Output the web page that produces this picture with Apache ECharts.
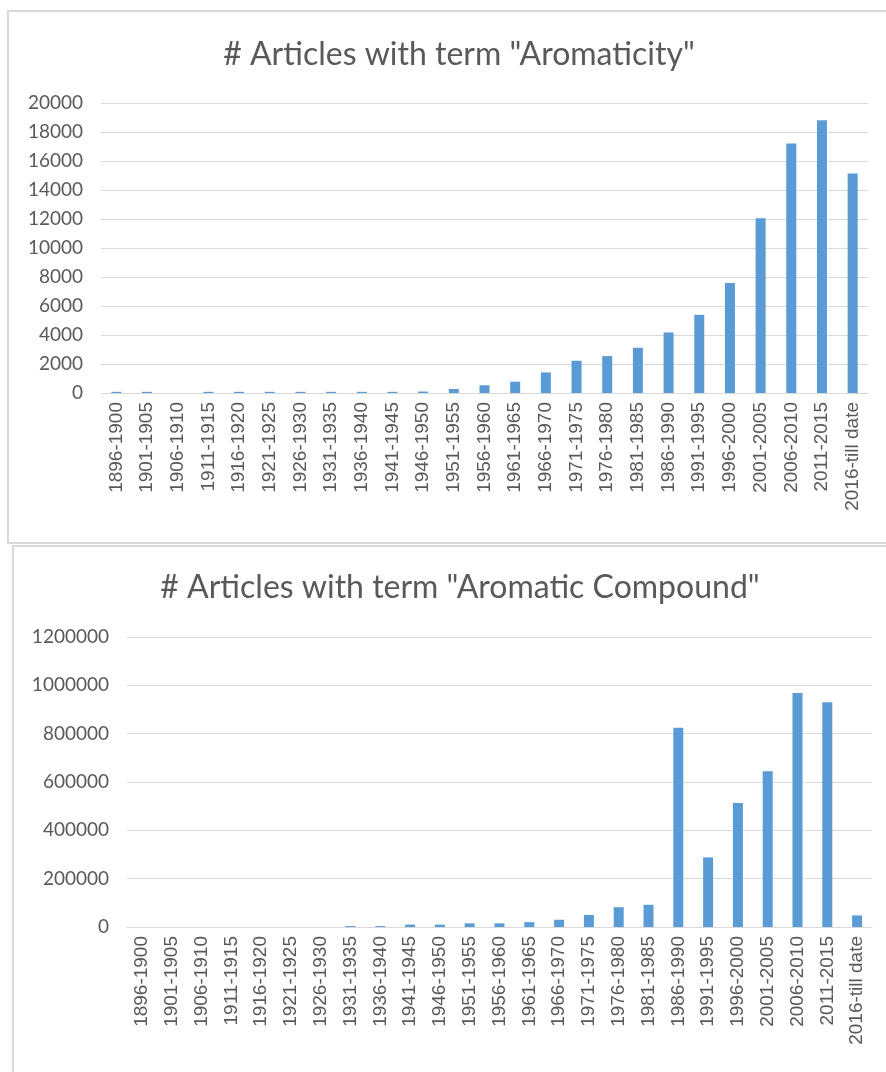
<!DOCTYPE html>
<html>
<head>
<meta charset="utf-8">
<script src="https://cdn.jsdelivr.net/npm/echarts@6/dist/echarts.min.js"></script>
<style>
html,body{margin:0;padding:0;background:#fff;}
#chart{width:886px;height:1072px;}
</style>
</head>
<body>
<div id="chart"></div>
<script>
var categories = ['1896-1900','1901-1905','1906-1910','1911-1915','1916-1920','1921-1925','1926-1930','1931-1935','1936-1940','1941-1945','1946-1950','1951-1955','1956-1960','1961-1965','1966-1970','1971-1975','1976-1980','1981-1985','1986-1990','1991-1995','1996-2000','2001-2005','2006-2010','2011-2015','2016-till date'];
var aromaticity = [80,80,0,80,80,80,80,80,80,80,100,275,530,780,1420,2225,2545,3120,4175,5390,7590,12060,17200,18810,15130];
var aromaticCompound = [0,0,0,0,0,0,0,4000,4000,10000,10000,15000,15000,20000,30000,50000,82000,92000,825000,288000,513000,644000,968000,930000,48000];
var titles = ['# Articles with term "Aromaticity"', '# Articles with term "Aromatic Compound"'];

var txt = '#595959', gridC = '#d9d9d9', barC = '#5b9bd5';
var yFont = 'Lato', xFont = 'Liberation Sans';

function xAxis(gi){
  return {type:'category', gridIndex:gi, data:categories,
    axisTick:{show:false}, axisLine:{lineStyle:{color:gridC,width:1}},
    axisLabel:{interval:0, rotate:90, margin:9, color:txt, fontFamily:xFont, fontSize:19}};
}
function yAxis(gi,max,interval){
  return {type:'value', gridIndex:gi, min:0, max:max, interval:interval,
    axisLine:{show:false}, axisTick:{show:false},
    splitLine:{lineStyle:{color:gridC,width:1}},
    axisLabel:{margin:18, color:txt, fontFamily:yFont, fontSize:19, formatter:function(v){return String(v);}}};
}

var chart = echarts.init(document.getElementById('chart'), null, {renderer:'canvas'});
chart.setOption({
  animation:false,
  backgroundColor:'#fff',
  graphic:[
    {type:'rect', z:-10, shape:{x:8,y:11,width:900,height:532}, style:{fill:'#fff', stroke:gridC, lineWidth:2}},
    {type:'rect', z:-10, shape:{x:13,y:546,width:900,height:600}, style:{fill:'#fff', stroke:gridC, lineWidth:2}}
  ],
  title:[
    {text:titles[0], left:454, top:34, textAlign:'center', textStyle:{color:txt, fontFamily:yFont, fontSize:32, fontWeight:'normal'}},
    {text:titles[1], left:455, top:567, textAlign:'center', textStyle:{color:txt, fontFamily:yFont, fontSize:32, fontWeight:'normal'}}
  ],
  grid:[
    {left:101, top:103, width:767, height:290},
    {left:127, top:637, width:745, height:290}
  ],
  xAxis:[xAxis(0), xAxis(1)],
  yAxis:[yAxis(0,20000,2000), yAxis(1,1200000,200000)],
  series:[
    {type:'bar', xAxisIndex:0, yAxisIndex:0, data:aromaticity, barWidth:10, itemStyle:{color:barC}},
    {type:'bar', xAxisIndex:1, yAxisIndex:1, data:aromaticCompound, barWidth:10, itemStyle:{color:barC}}
  ]
});
</script>
</body>
</html>
